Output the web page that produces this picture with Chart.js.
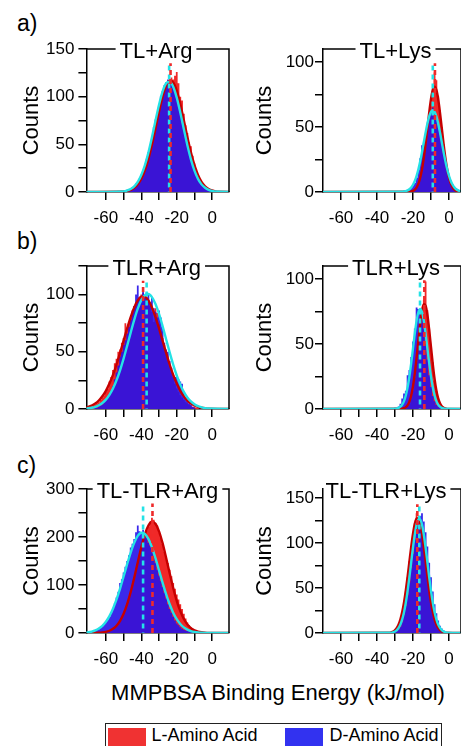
<!DOCTYPE html>
<html>
<head>
<meta charset="utf-8">
<title>MMPBSA binding energy histograms</title>
<script src="https://cdn.jsdelivr.net/npm/chart.js@4.4.1/dist/chart.umd.min.js"></script>
<style>
  html, body { margin: 0; padding: 0; background: #fff; overflow: hidden; }
  body { position: relative; width: 461px; height: 746px; font-family: "Liberation Sans", Arial, sans-serif; color: #000; }
  canvas { position: absolute; }
  .letter { position: absolute; left: 17px; font-size: 23px; line-height: 23px; }
  #xTitle { position: absolute; left: 0; width: 556px; top: 682px; text-align: center; font-size: 22px; line-height: 22px; white-space: nowrap; }
  #legend { position: absolute; left: 105px; top: 723px; width: 335px; height: 40px; border: 1.5px solid #222; }
  .swatch { position: absolute; top: 3.5px; width: 38px; height: 22px; }
  .key { position: absolute; top: 2.3px; font-size: 18px; line-height: 18px; white-space: nowrap; }
</style>
</head>
<body>
<div class="letter" style="top: 11.5px;">a)</div>
<div class="letter" style="top: 229.5px;">b)</div>
<div class="letter" style="top: 453.5px;">c)</div>
<div id="xTitle">MMPBSA Binding Energy (kJ/mol)</div>
<div id="legend">
  <div class="swatch" style="left: 1.5px; background: rgb(240, 50, 50);"></div>
  <div class="key" style="left: 45.5px;">L-Amino Acid</div>
  <div class="swatch" style="left: 178.5px; background: rgb(50, 50, 240);"></div>
  <div class="key" style="left: 223.5px;">D-Amino Acid</div>
</div>
<script>
// histogram bins are 1 kJ/mol wide: bin x = start + index
const panelTitles = ['TL+Arg', 'TL+Lys', 'TLR+Arg', 'TLR+Lys', 'TL-TLR+Arg', 'TL-TLR+Lys'];
const yMax = [150, 110, 125, 110, 300, 160];
const yTickStep = [25, 25, 25, 25, 50, 25];
const yLabelStep = [50, 50, 50, 50, 100, 50];
const xTicks = [-60, -50, -40, -30, -20, -10, 0];
const xLabelTicks = [-60, -40, -20, 0];

// mean lines (dashed) and how high they reach
const redMeans = [-23.5, -7.8, -39, -13.7, -33.7, -17.6];
const blueMeans = [-24.3, -9.0, -37, -16.1, -39, -16.5];
const meanLineTops = [135, 99, 112, 99, 270, 143];

// TL+Arg
const tlArgRedStart = -48;
const tlArgRed = [1,1,2,3,4,6,8,11,14,18,23,29,36,43,51,60,69,78,86,94,101,107,112,115,117,120,118,122,126,114,100,96,82,70,62,52,48,38,30,24,19,14,10,8,5,3,2,1,1];
const tlArgBlueStart = -51;
const tlArgBlue = [1,1,1,2,2,3,5,6,9,11,14,18,22,28,35,42,49,58,68,76,82,92,101,106,112,115,118,116,112,110,104,98,93,83,72,66,57,49,43,34,28,22,17,14,10,8,6,4,3,2,1,1];
const tlArgRedFit = [0.5,1.1,2.2,4.4,8.1,13.9,22.6,34.5,49.5,66.5,84.1,99.9,111.4,116.8,115,106.4,92.4,75.3,57.8,41.7,28.2,17.9,10.7,6,3.2,1.6,0.7,0.3]; // x = -50, step 2
const tlArgBlueFit = [0.7,1.6,3.1,5.9,10.6,17.8,27.9,41.3,57.3,74.7,91.6,105.4,114,115.8,110.5,99,83.4,66,49,34.2,22.4,13.8,8,4.4,2.2,1.1,0.5]; // x = -50, step 2

// TL+Lys
const tlLysRedStart = -20;
const tlLysRed = [1,2,3,6,10,17,26,37,48,60,72,80,92,86,74,63,50,37,25,17,10,6,3,2,1];
const tlLysBlueStart = -25;
const tlLysBlue = [1,1,1,2,3,5,7,11,17,26,36,38,44,50,56,62,65,64,56,52,44,36,30,24,17,12,9,6,4,3,2,1];
const tlLysRedFit = [0.2,0.4,0.9,1.8,3.6,6.4,11,17.5,26.3,37.1,49.1,61.1,71.5,78.5,81,78.5,71.5,61.1,49.1,37.1,26.3,17.5,11,6.4,3.6,1.8,0.9,0.4,0.2]; // x = -22, step 1
const tlLysBlueFit = [0.2,0.4,0.7,1.2,2.1,3.5,5.6,8.5,12.5,17.5,23.6,30.7,38.2,45.7,52.6,58.2,61.7,63,61.7,58.2,52.6,45.7,38.2,30.7,23.6,17.5,12.5,8.5,5.6,3.5,2.1,1.2,0.7]; // x = -26, step 1

// TLR+Arg
const tlrArgRedStart = -70;
const tlrArgRed = [1,2,2,3,4,5,6,8,10,12,15,18,24,28,34,40,44,50,52,58,62,75,70,76,80,86,90,93,95,98,100,102,99,96,94,90,85,76,88,84,74,68,62,56,48,44,38,32,28,22,18,15,12,10,8,6,5,4,3,2,2,1,1];
const tlrArgBlueStart = -66;
const tlrArgBlue = [1,1,2,3,4,6,8,10,13,16,20,26,32,38,46,50,56,60,66,72,78,84,90,100,108,96,98,102,99,97,100,93,98,88,85,80,86,80,72,58,52,50,42,36,30,28,28,26,24,22,15,10,7,5,4,2,1];
const tlrArgRedFit = [1.1,1.9,3.05,4.8,7.4,11.1,15.9,22.2,29.8,38.9,49,59.7,70.5,80.4,88.8,94.9,98.1,98.1,94.9,88.8,80.4,70.5,59.7,49,38.9,29.8,22.2,15.9,11.1,7.4,4.8,3.05,1.9,1.1,0.6,0.3]; // x = -72, step 2
const tlrArgBlueFit = [0.3,0.6,1.1,1.9,3.3,5.3,8.2,12.4,17.9,25.1,33.8,44,55.2,66.8,77.9,87.7,95.2,99.6,100.5,97.8,91.8,83.1,72.5,61,49.5,38.8,29.3,21.3,15,10.1,6.6,4.2,2.5,1.5,0.8,0.4]; // x = -72, step 2

// TLR+Lys
const tlrLysRedStart = -24;
const tlrLysRed = [1,2,4,8,14,24,36,50,62,72,84,98,76,62,48,36,22,14,8,4,2,1];
const tlrLysBlueStart = -30;
const tlrLysBlue = [1,1,2,4,8,12,14,26,30,40,52,62,78,77,74,70,62,50,38,26,17,10,6,3,2,1];
const tlrLysRedFit = [0.2,0.6,1.4,2.9,5.7,10.4,17.5,27.4,39.7,53.2,66,75.9,80.7,79.5,72.5,61.1,47.8,34.5,23.1,14.3,8.2,4.4,2.1,1,0.4,0.1]; // x = -26, step 1
const tlrLysBlueFit = [0.2,0.4,0.9,1.8,3.4,6.1,10.4,16.7,25,35.3,46.7,58.1,68,74.6,77,74.6,68,58.1,46.7,35.3,25,16.7,10.4,6.1,3.4,1.8,0.9,0.4,0.2]; // x = -30, step 1

// TL-TLR+Arg
const tlTlrArgRedStart = -60;
const tlTlrArgRed = [2,3,4,6,8,11,14,19,25,32,40,50,60,72,86,100,114,130,146,162,178,192,204,214,222,232,240,236,228,224,210,198,186,170,158,146,132,118,104,92,80,70,60,50,40,30,22,16,12,9,6,4,3,2,1];
const tlTlrArgBlueStart = -68;
const tlTlrArgBlue = [2,3,4,6,8,11,14,18,23,28,34,42,52,62,74,86,104,112,126,138,150,162,178,186,196,210,224,212,206,215,200,198,188,182,168,160,146,132,120,108,96,84,72,60,50,42,34,26,20,16,12,9,7,5,4,3,2,1];
const tlTlrArgRedFit = [0.2,0.5,1.2,2.4,4.7,8.7,15.2,25.4,40.1,60.1,85.3,115.1,147.2,178.5,205.3,224,231.9,227.6,211.9,187.2,156.8,124.6,93.9,67.1,45.5,29.3,17.9,10.3,5.7,3,1.5,0.7,0.3]; // x = -66, step 2
const tlTlrArgBlueFit = [0.4,0.9,1.6,3,5.4,9.2,15,23.4,35.2,50.6,69.9,92.6,117.8,143.5,167.7,188.1,202.3,208.7,206.6,196.1,178.5,155.9,130.6,105,80.9,59.8,42.4,28.9,18.8,11.8,7.1,4.1,2.3,1.2,0.6,0.3]; // x = -74, step 2

// TL-TLR+Lys
const tlTlrLysRedStart = -33;
const tlTlrLysRed = [1,1,2,3,5,9,14,22,33,46,62,80,96,108,122,133,128,120,108,94,78,62,46,34,23,15,9,5,3,2,1];
const tlTlrLysBlueStart = -30;
const tlTlrLysBlue = [1,2,4,7,12,20,30,42,56,72,88,104,116,124,130,133,124,112,96,78,62,46,32,22,14,8,5,3,1];
const tlTlrLysRedFit = [0.4,0.9,1.7,3.2,5.6,9.5,15.2,23.2,33.9,47.2,62.6,79.3,95.8,110.4,121.4,127.2,127.2,121.4,110.4,95.8,79.3,62.6,47.2,33.9,23.2,15.2,9.5,5.6,3.2,1.7,0.9,0.4]; // x = -33, step 1
const tlTlrLysBlueFit = [0.4,0.9,1.7,3.2,5.6,9.4,15.1,23,33.6,46.8,62.1,78.7,95,109.5,120.4,126.2,126.2,120.4,109.5,95,78.7,62.1,46.8,33.6,23,15.1,9.4,5.6,3.2,1.7,0.9,0.4]; // x = -32, step 1

const panels = [
  { red: tlArgRed, redStart: tlArgRedStart, blue: tlArgBlue, blueStart: tlArgBlueStart,
    redFit: tlArgRedFit, redFitStart: -50, blueFit: tlArgBlueFit, blueFitStart: -50, fitStep: 2 },
  { red: tlLysRed, redStart: tlLysRedStart, blue: tlLysBlue, blueStart: tlLysBlueStart,
    redFit: tlLysRedFit, redFitStart: -22, blueFit: tlLysBlueFit, blueFitStart: -26, fitStep: 1 },
  { red: tlrArgRed, redStart: tlrArgRedStart, blue: tlrArgBlue, blueStart: tlrArgBlueStart,
    redFit: tlrArgRedFit, redFitStart: -72, blueFit: tlrArgBlueFit, blueFitStart: -72, fitStep: 2 },
  { red: tlrLysRed, redStart: tlrLysRedStart, blue: tlrLysBlue, blueStart: tlrLysBlueStart,
    redFit: tlrLysRedFit, redFitStart: -26, blueFit: tlrLysBlueFit, blueFitStart: -30, fitStep: 1 },
  { red: tlTlrArgRed, redStart: tlTlrArgRedStart, blue: tlTlrArgBlue, blueStart: tlTlrArgBlueStart,
    redFit: tlTlrArgRedFit, redFitStart: -66, blueFit: tlTlrArgBlueFit, blueFitStart: -74, fitStep: 2 },
  { red: tlTlrLysRed, redStart: tlTlrLysRedStart, blue: tlTlrLysBlue, blueStart: tlTlrLysBlueStart,
    redFit: tlTlrLysRedFit, redFitStart: -33, blueFit: tlTlrLysBlueFit, blueFitStart: -32, fitStep: 1 }
];

// page layout (px)
const colPlotLeft = [86.4, 323];
const colPlotWidth = [142.6, 138];
const colXRange = [[-71, 9.5], [-70, 6.67]];
const colCountsOffset = [54, 58];
const colLabelPad = [4, 1];
const rowPlotTop = [49, 266, 489];
const rowPlotHeight = [143, 143, 144];
const titleCenters = [156, 395.5, 156.7, 396, 157.5, 386];

const RED_BAR = 'rgb(240, 40, 40)';
const BLUE_BAR = 'rgba(38, 18, 232, 0.9)';
const RED_FIT = '#c60000';
const CYAN_FIT = '#24e2e6';
const FONT = '"Liberation Sans", Arial, sans-serif';

Chart.defaults.font.family = FONT;
Chart.defaults.color = '#000';

const framePlugin = {
  id: 'frame',
  afterDraw(chart, args, opts) {
    const { ctx, chartArea: a } = chart;
    ctx.save();
    ctx.strokeStyle = '#000';
    ctx.lineWidth = 1.5;
    ctx.font = '22px ' + FONT;
    const w = ctx.measureText(opts.title).width;
    const gapL = opts.titleX - w / 2 - 4;
    const gapR = opts.titleX + w / 2 + 4;
    ctx.beginPath();
    if (gapL > a.left) {
      ctx.moveTo(a.left, a.top);
      ctx.lineTo(gapL, a.top);
    }
    ctx.moveTo(gapR, a.top);
    ctx.lineTo(a.right, a.top);
    ctx.lineTo(a.right, a.bottom);
    ctx.stroke();
    ctx.fillStyle = '#000';
    ctx.textAlign = 'center';
    ctx.textBaseline = 'alphabetic';
    ctx.fillText(opts.title, opts.titleX, a.top + 9);
    ctx.translate(a.left - opts.countsOffset, (a.top + a.bottom) / 2);
    ctx.rotate(-Math.PI / 2);
    ctx.textBaseline = 'middle';
    ctx.fillText('Counts', 0, 0);
    ctx.restore();
  }
};

// histogram as a stepped area: the step sits halfway between bin centres
function histPoints(start, counts) {
  const pts = counts.map((c, i) => ({ x: start + i, y: c }));
  return [{ x: start - 1, y: 0 }, ...pts, { x: start + counts.length, y: 0 }];
}

function fitPoints(start, step, values) {
  return [{ x: -80, y: 0 }, ...values.map((v, i) => ({ x: start + i * step, y: v })), { x: 20, y: 0 }];
}

function yTicksFor(i) {
  const ticks = [];
  for (let v = 0; v <= yMax[i]; v += yTickStep[i]) ticks.push({ value: v });
  return ticks;
}

function drawPanel(p, i) {
  const col = i % 2;
  const row = Math.floor(i / 2);
  const plotLeft = colPlotLeft[col];
  const plotW = colPlotWidth[col];
  const plotTop = rowPlotTop[row];
  const plotH = rowPlotHeight[row];
  const canvasLeft = Math.floor(plotLeft) - 70;
  const yAxisW = plotLeft - canvasLeft;
  const width = Math.round(yAxisW + plotW + 20);
  const height = plotH + 80;

  const canvas = document.createElement('canvas');
  canvas.width = width;
  canvas.height = height;
  canvas.style.width = width + 'px';
  canvas.style.height = height + 'px';
  canvas.style.left = canvasLeft + 'px';
  canvas.style.top = (plotTop - 40) + 'px';
  document.body.appendChild(canvas);

  const line = { pointRadius: 0, fill: false };
  const hist = { pointRadius: 0, borderWidth: 0, stepped: 'middle', fill: 'origin' };

  new Chart(canvas, {
    type: 'line',
    data: {
      datasets: [
        { ...line, data: [{ x: redMeans[i], y: 0 }, { x: redMeans[i], y: meanLineTops[i] }],
          borderColor: '#ee2a2a', borderWidth: 2.6, borderDash: [5, 4], order: 0 },
        { ...line, data: [{ x: blueMeans[i], y: 0 }, { x: blueMeans[i], y: meanLineTops[i] }],
          borderColor: CYAN_FIT, borderWidth: 2.6, borderDash: [5, 4], borderDashOffset: 4.5, order: 0 },
        { ...line, data: fitPoints(p.blueFitStart, p.fitStep, p.blueFit),
          borderColor: CYAN_FIT, borderWidth: 2.4, cubicInterpolationMode: 'monotone', order: 1 },
        { ...line, data: fitPoints(p.redFitStart, p.fitStep, p.redFit),
          borderColor: RED_FIT, borderWidth: 2.4, cubicInterpolationMode: 'monotone', order: 2 },
        { ...hist, data: histPoints(p.blueStart, p.blue), backgroundColor: BLUE_BAR, borderColor: BLUE_BAR, order: 3 },
        { ...hist, data: histPoints(p.redStart, p.red), backgroundColor: RED_BAR, borderColor: RED_BAR, order: 4 }
      ]
    },
    options: {
      responsive: false,
      animation: false,
      events: [],
      layout: { padding: { left: 0, top: 40, right: width - yAxisW - plotW, bottom: 0 } },
      scales: {
        x: {
          type: 'linear',
          min: colXRange[col][0],
          max: colXRange[col][1],
          z: 1,
          grid: { drawOnChartArea: false, tickLength: 8, color: '#000', lineWidth: 1.5 },
          border: { color: '#000', width: 1.5 },
          afterBuildTicks: s => { s.ticks = xTicks.map(v => ({ value: v })); },
          afterFit: s => { s.height = 40; },
          ticks: { autoSkip: false, maxRotation: 0, padding: 8, font: { size: 17 },
            callback: v => (xLabelTicks.includes(v) ? String(v) : '') }
        },
        y: {
          min: 0,
          max: yMax[i],
          z: 1,
          grid: { drawOnChartArea: false, tickLength: 8, color: '#000', lineWidth: 1.5 },
          border: { color: '#000', width: 1.5 },
          afterBuildTicks: s => { s.ticks = yTicksFor(i); },
          afterFit: s => { s.width = yAxisW; },
          ticks: { autoSkip: false, padding: colLabelPad[col], font: { size: 17 },
            callback: v => (v % yLabelStep[i] === 0 ? String(v) : '') }
        }
      },
      plugins: {
        legend: { display: false },
        tooltip: { enabled: false },
        frame: { title: panelTitles[i], titleX: titleCenters[i] - canvasLeft, countsOffset: colCountsOffset[col] }
      }
    },
    plugins: [framePlugin]
  });
}

panels.forEach(drawPanel);
</script>
</body>
</html>
